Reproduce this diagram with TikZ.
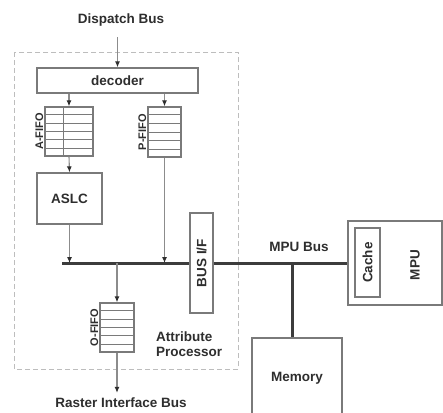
\documentclass[tikz,border=0pt]{standalone}
\usepackage{fontspec}
\setmainfont{Liberation Sans}
\usetikzlibrary{arrows.meta,calc,positioning}
\definecolor{ink}{HTML}{2E2E2E}
\definecolor{edge}{HTML}{7A7A7A}
\definecolor{wire}{HTML}{8C8C8C}
\definecolor{busc}{HTML}{3C3C3C}
\definecolor{frm}{HTML}{BDBDBD}

\tikzset{
 blk/.style={draw=edge,line width=1.3pt,fill=white,inner sep=0pt,text=ink},
 fifo/.style={blk,minimum width=#1},
 lab/.style={text=ink,inner sep=1pt},
 arr/.style={wire,line width=1.1pt,-{Latex[length=6pt,width=5pt,color=ink]}},
 busline/.style={busc,line width=3pt},
 frame/.style={frm,dashed,line width=1pt,dash pattern=on 5pt off 3pt}
}

\begin{document}
\begin{tikzpicture}[x=1pt,y=-1pt,font=\bfseries\fontsize{13.5}{15}\selectfont]
\clip (0,0) rectangle (443,412);
\fill[white] (0,0) rectangle (443,412);
% attribute processor boundary
\draw[frame] (14,52) rectangle (238,369);
\node[lab] (dsp) at (121,20) {Dispatch Bus};
\node[blk,minimum width=161pt,minimum height=25pt] (dec) at (117.5,80.5) {decoder};
\node[fifo=48pt,minimum height=49pt] (afifo) at (69,131.5) {};
\node[fifo=33pt,minimum height=50pt] (pfifo) at (164.5,132) {};
\node[blk,minimum width=65pt,minimum height=51pt] (aslc) at (69.5,198.5) {ASLC};
\node[fifo=34pt,minimum height=49pt] (ofifo) at (117,327.5) {};
\foreach \q in {afifo,pfifo,ofifo}
 \foreach \f in {1,...,5}
  \draw[edge,line width=1pt] ($(\q.north west)!\f/6!(\q.south west)$) -- ($(\q.north east)!\f/6!(\q.south east)$);
\draw[edge,line width=1pt] ($(afifo.north west)!0.38!(afifo.north east)$) -- ($(afifo.south west)!0.38!(afifo.south east)$);
\node[lab,rotate=90,anchor=south,font=\bfseries\fontsize{11}{12}\selectfont] (afl) at (afifo.west) {A-FIFO};
\node[lab,rotate=90,anchor=south,font=\bfseries\fontsize{11}{12}\selectfont] (pfl) at (pfifo.west) {P-FIFO};
\node[lab,rotate=90,anchor=south,font=\bfseries\fontsize{11}{12}\selectfont] (ofl) at (ofifo.west) {O-FIFO};
\node[blk,minimum width=23pt,minimum height=100pt] (busif) at (201.5,263) {};
\node[lab,rotate=90] (busl) at (busif) {BUS I/F};
\coordinate (busw) at (62,263);
\coordinate (tap) at (292,263);
\node[blk,minimum width=94pt,minimum height=84pt] (mpu) at (395,263) {};
\node[blk,minimum width=25pt,minimum height=69pt] (cache) at (367.5,262.5) {};
\node[lab,rotate=90] (cachel) at (cache) {Cache};
\node[lab,rotate=90] (mpul) at (415,265) {MPU};
\node[blk,minimum width=90pt,minimum height=80pt] (mem) at (297,378) {Memory};
\node[lab] (mpub) at (299,247) {MPU Bus};
\node[lab,align=left,anchor=west] (apl) at (155,344) {Attribute\\Processor};
\node[lab] (ras) at (121,403) {Raster Interface Bus};
% buses
\draw[busline] (busw) -- (busif.west);
\draw[busline] (busif.east) -- (mpu.west);
\draw[busline] (tap) -- (mem.north -| tap);
% arrows
\draw[arr] (dsp.south -| dec.north) ++(0,10) -- (dec.north);
\draw[arr] (dec.south -| afifo.north) -- (afifo.north);
\draw[arr] (dec.south -| pfifo.north) -- (pfifo.north);
\draw[arr] (afifo.south) -- (aslc.north);
\draw[arr] (aslc.south) -- (aslc.south |- busw);
\draw[arr] (pfifo.south) -- (pfifo.south |- busw);
\draw[arr] (ofifo.north |- busw) -- (ofifo.north);
\draw[arr] (ofifo.south) -- ($(ofifo.south |- ras.north)+(0,-4)$);
\end{tikzpicture}
\end{document}
